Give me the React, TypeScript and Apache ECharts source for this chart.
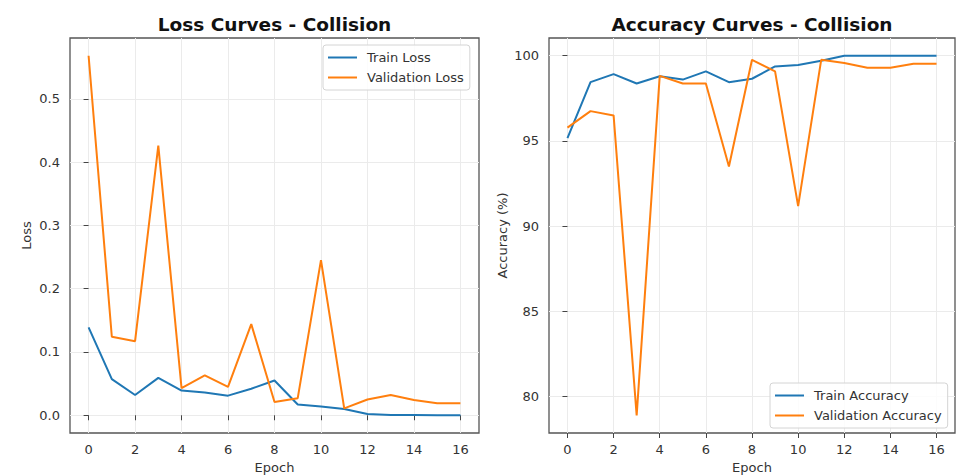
import React, { useEffect, useRef } from "react";
import * as echarts from "echarts";

const epochs = [0, 1, 2, 3, 4, 5, 6, 7, 8, 9, 10, 11, 12, 13, 14, 15, 16];
const trainLoss = [0.139, 0.057, 0.032, 0.059, 0.039, 0.036, 0.031, 0.042, 0.055, 0.017, 0.014, 0.01, 0.002, 0.0005, 0.0003, 0.0002, 0.0002];
const valLoss = [0.568, 0.124, 0.117, 0.426, 0.043, 0.063, 0.045, 0.144, 0.021, 0.027, 0.245, 0.011, 0.025, 0.032, 0.024, 0.019, 0.019];
const trainAcc = [95.16, 98.45, 98.92, 98.37, 98.8, 98.6, 99.08, 98.45, 98.65, 99.37, 99.45, 99.7, 100, 100, 100, 100, 100];
const valAcc = [95.78, 96.75, 96.5, 78.9, 98.82, 98.37, 98.37, 93.5, 99.76, 99.08, 91.18, 99.76, 99.57, 99.3, 99.3, 99.53, 99.53];

const xTicks = [0, 2, 4, 6, 8, 10, 12, 14, 16];
const lossTicks = [0, 0.1, 0.2, 0.3, 0.4, 0.5];
const accTicks = [80, 85, 90, 95, 100];

const BLUE = "#1f77b4";
const ORANGE = "#ff7f0e";
const FONT = "DejaVu Sans";

function pairs(ys: number[]) {
  return epochs.map((e, i) => [e, ys[i]]);
}

export default function App() {
  const ref = useRef<HTMLDivElement>(null);
  useEffect(() => {
    document.body.style.margin = "0";
    const chart = echarts.init(ref.current!, null, { renderer: "svg" });
    const axisLabel = (fmt: (v: number) => string, margin: number) => ({
      color: "#333",
      fontFamily: FONT,
      fontSize: 13,
      margin,
      formatter: fmt,
    });
    const splitLine = { show: true, lineStyle: { color: "#ebebeb", width: 1 } };
    const axisTick = (vals: number[]) => ({
      show: true,
      length: 5,
      lineStyle: { color: "#444", width: 1 },
      customValues: vals,
    });
    const xAxisFor = (gi: number) => ({
      type: "value",
      gridIndex: gi,
      min: -0.8,
      max: 16.8,
      name: "Epoch",
      nameLocation: "middle",
      nameGap: 28,
      nameTextStyle: { color: "#333", fontFamily: FONT, fontSize: 13 },
      axisLine: { show: false },
      axisTick: axisTick(xTicks),
      axisLabel: { ...axisLabel((v: number) => String(v), 10), customValues: xTicks },
      splitLine,
    });
    const lineSeries = (name: string, data: number[], color: string, gi: number) => ({
      type: "line",
      name,
      xAxisIndex: gi,
      yAxisIndex: gi,
      data: pairs(data),
      showSymbol: false,
      symbol: "none",
      smooth: false,
      lineStyle: { color, width: 2 },
      itemStyle: { color },
      z: 3,
    });
    const legendBase = {
      orient: "vertical",
      itemWidth: 29,
      itemHeight: 2,
      itemGap: 7,
      icon: "rect",
      padding: [6, 6, 6, 5],
      borderColor: "#d4d4d4",
      borderWidth: 1,
      borderRadius: 3,
      backgroundColor: "rgba(255,255,255,0.85)",
      textStyle: { color: "#333", fontFamily: FONT, fontSize: 13, padding: [0, 0, 0, 5] },
    };
    chart.setOption({
      animation: false,
      backgroundColor: "#fff",
      title: [
        {
          text: "Loss Curves - Collision",
          left: 274.5,
          top: 15,
          textAlign: "center",
          padding: 0,
          textStyle: { fontFamily: FONT, fontSize: 18.5, fontWeight: "bold", color: "#111" },
        },
        {
          text: "Accuracy Curves - Collision",
          left: 752,
          top: 15,
          textAlign: "center",
          padding: 0,
          textStyle: { fontFamily: FONT, fontSize: 18.5, fontWeight: "bold", color: "#111" },
        },
      ],
      legend: [
        { ...legendBase, data: ["Train Loss", "Validation Loss"], left: 323, top: 45 },
        { ...legendBase, data: ["Train Accuracy", "Validation Accuracy"], left: 770, top: 383 },
      ],
      grid: [
        { left: 70, top: 38, width: 409, height: 395, show: true, borderColor: "#555", borderWidth: 1.3, backgroundColor: "transparent", containLabel: false, outerBoundsMode: "none" },
        { left: 549, top: 38, width: 406, height: 395, show: true, borderColor: "#555", borderWidth: 1.3, backgroundColor: "transparent", containLabel: false, outerBoundsMode: "none" },
      ],
      xAxis: [xAxisFor(0), xAxisFor(1)],
      yAxis: [
        {
          type: "value",
          gridIndex: 0,
          min: -0.028,
          max: 0.596,
          name: "Loss",
          nameLocation: "middle",
          nameGap: 37,
          nameTextStyle: { color: "#333", fontFamily: FONT, fontSize: 13 },
          axisLine: { show: false },
          axisTick: axisTick(lossTicks),
          axisLabel: { ...axisLabel((v: number) => v.toFixed(1), 10), customValues: lossTicks },
          splitLine,
        },
        {
          type: "value",
          gridIndex: 1,
          min: 77.87,
          max: 101.04,
          name: "Accuracy (%)",
          nameLocation: "middle",
          nameGap: 40,
          nameTextStyle: { color: "#333", fontFamily: FONT, fontSize: 13 },
          axisLine: { show: false },
          axisTick: axisTick(accTicks),
          axisLabel: { ...axisLabel((v: number) => String(Math.round(v)), 10), customValues: accTicks },
          splitLine,
        },
      ],
      series: [
        lineSeries("Train Loss", trainLoss, BLUE, 0),
        lineSeries("Validation Loss", valLoss, ORANGE, 0),
        lineSeries("Train Accuracy", trainAcc, BLUE, 1),
        lineSeries("Validation Accuracy", valAcc, ORANGE, 1),
      ],
    });
    return () => chart.dispose();
  }, []);
  return (
    <div
      ref={ref}
      style={{ position: "fixed", left: 0, top: 0, width: 961, height: 476 }}
    />
  );
}
